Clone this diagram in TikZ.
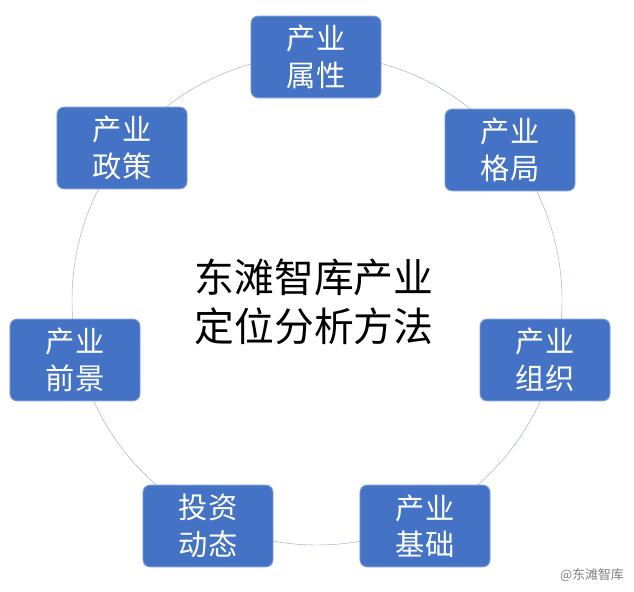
\documentclass[tikz,border=0pt]{standalone}
\usepackage{fontspec}
\setmainfont{Noto Sans CJK SC}
\definecolor{boxblue}{HTML}{4472C4}
\begin{document}
\begin{tikzpicture}[x=0.03cm, y=-0.03cm, every node/.style={font=\fontsize{25}{31}\selectfont},
  item/.style={rectangle, rounded corners=6pt, fill=boxblue, draw=boxblue!70!white, thick, text=white, minimum width=3.9cm, minimum height=2.45cm, align=center, inner sep=0pt}]
	\useasboundingbox (0,0) rectangle (634,592);
	\coordinate (o) at (317,300);
	\draw[boxblue!60!gray!60, thin] (o) circle[radius=7.35cm];
	
	\node[item] (attr) at (316,57){产业\\属性};
	\node[item] (pattern) at (510,150){产业\\格局};
	\node[item] (org) at (545,360){产业\\组织};
	\node[item] (base) at (425,526){产业\\基础};
	\node[item] (invest) at (208,526){投资\\动态};
	\node[item] (outlook) at (75,360){产业\\前景};
	\node[item] (policy) at (122,148){产业\\政策};
	
	\node[align=left, font=\fontsize{34}{42}\selectfont] (title) at (314,302){东滩智库产业\\定位分析方法};
	\node[text=gray, font=\fontsize{11}{13}\selectfont, anchor=east] (mark) at (628,575){@东滩智库};
\end{tikzpicture}
\end{document}
